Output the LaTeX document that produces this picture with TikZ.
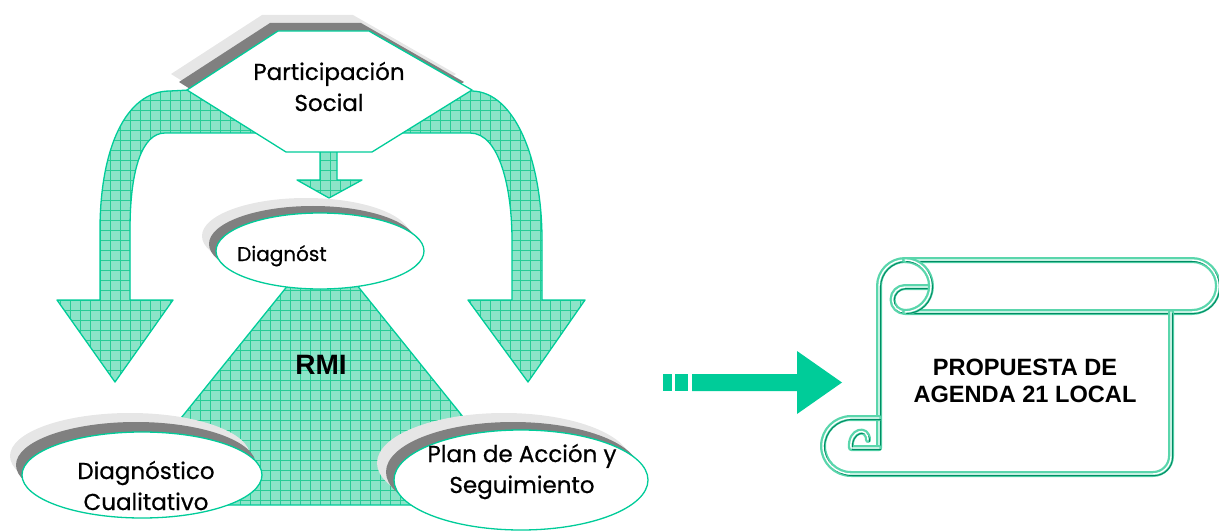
\documentclass[tikz,border=0pt]{standalone}
\usepackage{fontspec}
\setmainfont{Liberation Sans}
\newfontfamily\gothic{Poppins}[FakeBold=0.6]
\usetikzlibrary{shapes.geometric, shadows}
\definecolor{rmigreen}{RGB}{0,204,153}
\definecolor{mint}{RGB}{140,228,200}
\definecolor{gridgreen}{RGB}{40,204,150}
\definecolor{shlight}{RGB}{230,230,230}
\definecolor{shdark}{RGB}{128,128,128}
\definecolor{rollgreen}{RGB}{90,214,172}
\definecolor{rolldark}{RGB}{0,140,100}
\tikzset{
  % Grid-filled block shapes
  hatch/.style={draw=rmigreen, line width=1.3pt, fill=mint, line join=round,
    path picture={\draw[gridgreen, line width=0.5pt]
      (path picture bounding box.south west) grid[step=10pt]
      (path picture bounding box.north east);}},
  % Two grey shadows behind a shape
  backshade/.style n args={4}{
    drop shadow={shadow xshift=#1, shadow yshift=#2, fill=shlight, opacity=1},
    drop shadow={shadow xshift=#3, shadow yshift=#4, fill=shdark, opacity=1}},
  % White hexagon
  hexa/.style={draw=rmigreen, fill=white, line width=1.3pt, line join=round},
  % White ellipse
  bubble/.style={hexa, shape=ellipse, inner sep=0pt},
  % Labels
  lbl/.style={font=\gothic\fontsize{23}{31}\selectfont, align=center, inner sep=0pt},
  blbl/.style={font=\bfseries\fontsize{23.6}{27}\selectfont, align=center, inner sep=0pt},
  % Scroll outline
  roll/.style={draw=rollgreen, line width=6pt, line cap=round, line join=round,
    postaction={draw=rolldark, line width=1pt, line cap=round,
      transform canvas={xshift=1.5pt, yshift=-1.5pt}},
    postaction={draw=white, line width=1.4pt, line cap=round}},
  % Solid arrow
  solid/.style={fill=rmigreen},
}
\begin{document}
\begin{tikzpicture}[x=1pt, y=-1pt]
  \useasboundingbox (0,0) rectangle (1219,532);

  % curved arrows from the hexagon
  \draw[hatch] (262,133) -- (165,133) .. controls (142,133) and (130,170) .. (130,230)
    -- (130,300) -- (173,300) -- (115,382) -- (57,300) -- (100,300) -- (100,230)
    .. controls (100,150) and (125,91) .. (170,91) -- (190,90) -- cycle;
  \draw[hatch] (398,133) -- (470,133) .. controls (500,133) and (512,190) .. (512,240)
    -- (512,300) -- (468,300) -- (528,382) -- (585,300) -- (542,300) -- (542,240)
    .. controls (542,160) and (515,92) .. (472,91) -- (469,90) -- cycle;
  \draw[hatch] (320,145) -- (320,180) -- (297,180) -- (329,198) -- (362,180)
    -- (337,180) -- (337,145) -- cycle;

  % hexagon
  \draw[hexa, backshade={-16pt}{16pt}{-8pt}{8pt}] (187,90) -- (278,31) -- (369,31)
    -- (472,90) -- (372,152) -- (286,152) -- cycle;
  \node[lbl, anchor=base] (part) at (329,111) {Participación\\Social};

  % RMI trapezoid
  \draw[hatch] (289,284) -- (356,284) -- (534,505) -- (111,505) -- cycle;
  \node[blbl, font=\bfseries\fontsize{28}{30}\selectfont, anchor=base] (rmi) at (321,374) {RMI};

  % ellipses
  \node[bubble, backshade={-14pt}{15pt}{-7pt}{7pt}, minimum width=208pt,
    minimum height=76pt] (diag) at (320,251) {};
  \node[lbl, font=\gothic\fontsize{20}{24}\selectfont, anchor=base west] (diagtxt)
    at (237,261) {Diagnóst};
  \node[bubble, backshade={-12pt}{19pt}{-6pt}{10pt}, minimum width=240pt,
    minimum height=86pt] (cuali) at (142,475) {};
  \node[lbl, anchor=base] (cualitxt) at (146,510) {Diagnóstico\\Cualitativo};
  \node[bubble, backshade={-17pt}{17pt}{-8pt}{8pt}, minimum width=254pt,
    minimum height=100pt] (plan) at (521,480) {};
  \node[lbl, anchor=base] (plantxt) at (522,493) {Plan de Acción y\\Seguimiento};

  % arrow to the scroll
  \fill[solid] (663,374) rectangle (672,391);
  \fill[solid] (675,374) rectangle (688,391);
  \fill[solid] (692,374) -- (797,374) -- (797,351) -- (842,382.5) -- (797,414)
    -- (797,391) -- (692,391) -- cycle;

  % scroll
  \draw[roll] (879,448) -- (879,286) arc[start angle=180, end angle=270, radius=26]
    -- (1192,260) arc[start angle=-90, end angle=90, radius=26] -- (905,312)
    arc[start angle=90, end angle=270, radius=12.5] -- (931,287);
  \draw[roll] (905,260) arc[start angle=-90, end angle=90, radius=26];
  \draw[roll] (1171,312) -- (1171,456) arc[start angle=0, end angle=90, radius=18]
    -- (851,474) arc[start angle=90, end angle=270, radius=28] -- (879,418);
  \draw[roll] (879,448) -- (851,448) .. controls (849,430) and (868,426) .. (868,440);
  \node[blbl, anchor=base] (agenda) at (1025,402) {PROPUESTA DE\\AGENDA 21 LOCAL};
\end{tikzpicture}
\end{document}
